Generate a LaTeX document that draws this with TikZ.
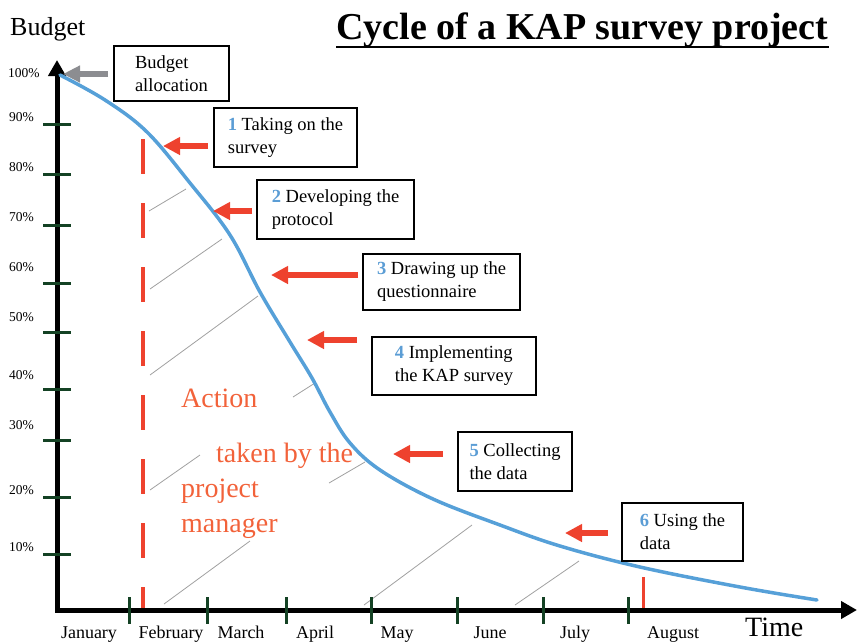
\documentclass[tikz,border=0pt]{standalone}
\usepackage{fontspec}
\setmainfont{Liberation Serif}
\usetikzlibrary{arrows.meta}
\definecolor{curveblue}{RGB}{86,160,216}
\definecolor{numblue}{RGB}{91,157,213}
\definecolor{arrred}{RGB}{238,66,46}
\definecolor{actred}{RGB}{242,98,58}
\definecolor{tickgreen}{RGB}{20,66,36}
\definecolor{arrgray}{RGB}{140,141,145}
\definecolor{hatchgray}{RGB}{160,160,160}
\newcommand{\num}[1]{{\bfseries\color{numblue}#1}}
\begin{document}
\begin{tikzpicture}[x=1pt,y=-1pt,
  box/.style={draw=black, line width=1.2pt, fill=white, align=left,
    font=\fontsize{18.5}{23}\selectfont, inner sep=0pt},
  redarrow/.style={draw=arrred, line width=6pt, -{Triangle[length=17pt,width=17pt]}},
  grayarrow/.style={draw=arrgray, line width=6pt, -{Triangle[length=17pt,width=16pt]}},
  hatch/.style={draw=hatchgray, line width=0.8pt},
  tickmark/.style={draw=tickgreen, line width=3pt},
  pct/.style={anchor=base west, inner sep=0pt, font=\fontsize{13.5}{14}\selectfont},
  month/.style={anchor=base, inner sep=0pt, font=\fontsize{18}{20}\selectfont},
  acttext/.style={anchor=base west, inner sep=0pt, text=actred, font=\fontsize{28}{30}\selectfont}]
\useasboundingbox (0,0) rectangle (858,641);

% hatch lines
\draw[hatch] (149,211) -- (186,189);
\draw[hatch] (150,289) -- (222,239);
\draw[hatch] (150,375) -- (258,296);
\draw[hatch] (293,397) -- (315,383);
\draw[hatch] (150,490) -- (200,455);
\draw[hatch] (329,483) -- (365,462);
\draw[hatch] (164,604) -- (250,541);
\draw[hatch] (364,605) -- (472,525);
\draw[hatch] (515,605) -- (579,561);

% red dashed line and August marker
\draw[arrred, line width=4pt, dash pattern=on 35pt off 29pt] (143,139) -- (143,610);
\draw[arrred, line width=3pt] (643,577) -- (643,610);

% axes
\coordinate (ytip) at (57,60);
\coordinate (org) at (57,610);
\coordinate (xtip) at (857,610);
\draw[line width=5pt, line join=miter, {Triangle[length=16pt,width=17pt]}-{Triangle[length=16pt,width=17pt]}] (ytip) -- (org) -- (xtip);

% y ticks
\foreach \y in {124,174,225,283,332,389,440,497,554}
  \draw[tickmark] (43,\y) -- (71,\y);
% x ticks
\foreach \x in {129,207,286,371,457,543,628}
  \draw[tickmark] (\x,597) -- (\x,624);

% percent labels
\node[pct] (p100) at (8,77) {100\%};
\node[pct] (p90) at (9,121) {90\%};
\node[pct] (p80) at (9,171) {80\%};
\node[pct] (p70) at (9,221) {70\%};
\node[pct] (p60) at (9,271) {60\%};
\node[pct] (p50) at (9,321) {50\%};
\node[pct] (p40) at (9,379) {40\%};
\node[pct] (p30) at (9,429) {30\%};
\node[pct] (p20) at (9,494) {20\%};
\node[pct] (p10) at (9,551) {10\%};

% month labels
\node[month] (m1) at (89,638) {January};
\node[month] (m2) at (171,638) {February};
\node[month] (m3) at (241,638) {March};
\node[month] (m4) at (315,638) {April};
\node[month] (m5) at (397,638) {May};
\node[month] (m6) at (490,638) {June};
\node[month] (m7) at (575,638) {July};
\node[month] (m8) at (673,638) {August};

% axis titles
\node[anchor=base west, inner sep=0pt, font=\fontsize{26}{28}\selectfont] (budget) at (10,35) {Budget};
\node[anchor=base west, inner sep=0pt, font=\fontsize{28}{30}\selectfont] (time) at (745,636) {Time};

% title
\node[anchor=base west, inner sep=0pt, font=\fontsize{38}{40}\selectfont\bfseries] (title) at (336,39) {Cycle of a KAP survey project};
\draw[line width=2.5pt] ([yshift=-8pt]title.base west) -- ([yshift=-8pt]title.base east);

% curve
\draw[curveblue, line width=3.5pt, line cap=round] plot[smooth, tension=0.6] coordinates {
  (60,75) (105,100) (147,132) (190,183) (230,235) (260,292) (290,342)
  (312,378) (330,412) (350,443) (380,470) (433,499) (500,525)
  (560,546) (640,567) (740,587) (817,600)};

% boxes
\node[box, minimum width=115pt, minimum height=55pt] (b0) at (171.5,73.5) {Budget\\allocation};
\node[box, minimum width=143pt, minimum height=59pt] (b1) at (285.5,137.5) {\num{1} Taking on the\\survey};
\node[box, minimum width=157pt, minimum height=59pt] (b2) at (335.5,209.5) {\num{2} Developing the\\protocol};
\node[box, minimum width=157pt, minimum height=56pt] (b3) at (441.5,282) {\num{3} Drawing up the\\questionnaire};
\node[box, minimum width=164pt, minimum height=58pt] (b4) at (454,366) {\num{4} Implementing\\the KAP survey};
\node[box, minimum width=114pt, minimum height=59pt] (b5) at (515,461.5) {\num{5} Collecting\\the data};
\node[box, minimum width=121pt, minimum height=58pt] (b6) at (682.5,532) {\num{6} Using the\\data};

% arrows
\coordinate (a0s) at (108,74);  \coordinate (a0e) at (63,74);
\coordinate (a1s) at (208,146); \coordinate (a1e) at (163,146);
\coordinate (a2s) at (252,211); \coordinate (a2e) at (213,211);
\coordinate (a3s) at (358,275); \coordinate (a3e) at (271,275);
\coordinate (a4s) at (357,340); \coordinate (a4e) at (307,340);
\coordinate (a5s) at (443,454); \coordinate (a5e) at (393,454);
\coordinate (a6s) at (608,533); \coordinate (a6e) at (565,533);
\draw[grayarrow] (a0s) -- (a0e);
\draw[redarrow] (a1s) -- (a1e);
\draw[redarrow] (a2s) -- (a2e);
\draw[redarrow] (a3s) -- (a3e);
\draw[redarrow] (a4s) -- (a4e);
\draw[redarrow] (a5s) -- (a5e);
\draw[redarrow] (a6s) -- (a6e);

% action text
\node[acttext] (act1) at (181,407) {Action};
\node[acttext] (act2) at (216,462) {taken by the};
\node[acttext] (act3) at (181,497) {project};
\node[acttext] (act4) at (181,532) {manager};
\end{tikzpicture}
\end{document}
